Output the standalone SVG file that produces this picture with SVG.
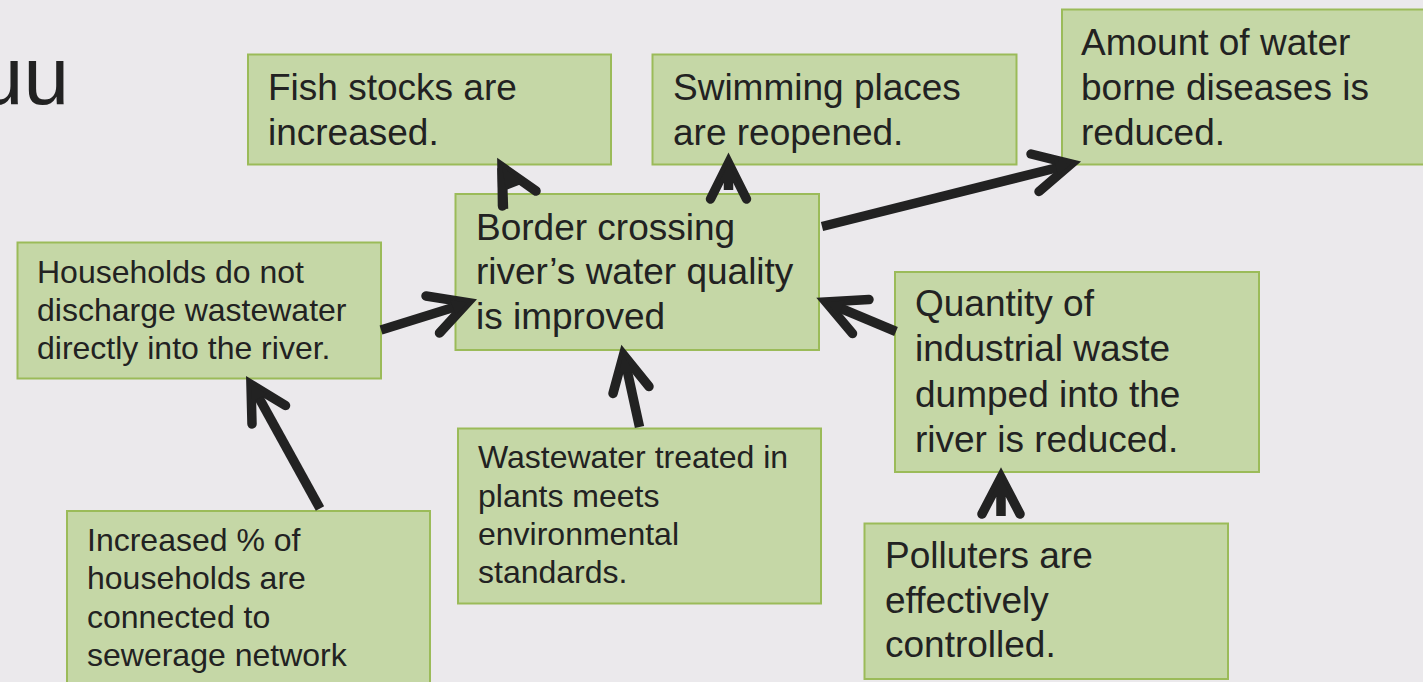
<svg xmlns="http://www.w3.org/2000/svg" width="1423" height="682" viewBox="0 0 1423 682">
<style>
.bg{fill:#EBE9EC}
.box{fill:#C5D7A6;stroke:#9BBB59;stroke-width:2}
.t37{font-family:"Liberation Sans",Arial,sans-serif;font-size:37px;fill:#222}
.t32{font-family:"Liberation Sans",Arial,sans-serif;font-size:32px;fill:#222}
.shaft{fill:none;stroke:#222;stroke-width:9.5;stroke-linecap:butt}
.head{fill:none;stroke:#222;stroke-width:9.5;stroke-linecap:round;stroke-linejoin:miter;stroke-miterlimit:10}
.fillh{fill:#222;stroke:none}
</style>
<rect class="bg" x="0" y="0" width="1423" height="682"/>
<text x="69" y="104" text-anchor="end" font-family="'Liberation Sans',Arial,sans-serif" font-size="82" fill="#222">uu</text>

<g id="fish"><rect class="box" x="248" y="54.5" width="363" height="110"/>
<text class="t37" x="268" y="100">Fish stocks are</text><text class="t37" x="268" y="144.5">increased.</text></g>

<g id="swim"><rect class="box" x="652.5" y="54.5" width="364" height="110"/>
<text class="t37" x="673" y="100">Swimming places</text><text class="t37" x="673" y="144.5">are reopened.</text></g>

<g id="amount"><rect class="box" x="1062" y="9.5" width="380" height="155"/>
<text class="t37" x="1081" y="54.5">Amount of water</text><text class="t37" x="1081" y="99.5">borne diseases is</text><text class="t37" x="1081" y="144.5">reduced.</text></g>

<g id="households"><rect class="box" x="17.5" y="242.5" width="363.5" height="136"/>
<text class="t32" x="37" y="282.5">Households do not</text><text class="t32" x="37" y="320.8">discharge wastewater</text><text class="t32" x="37" y="359">directly into the river.</text></g>

<g id="border"><rect class="box" x="455.5" y="194" width="363.5" height="156"/>
<text class="t37" x="476" y="239.5">Border crossing</text><text class="t37" x="476" y="284">river’s water quality</text><text class="t37" x="476" y="328.5">is improved</text></g>

<g id="quantity"><rect class="box" x="895" y="272" width="364" height="200"/>
<text class="t37" x="915" y="316">Quantity of</text><text class="t37" x="915" y="361.3">industrial waste</text><text class="t37" x="915" y="406.6">dumped into the</text><text class="t37" x="915" y="452">river is reduced.</text></g>

<g id="wastewater"><rect class="box" x="458" y="428.5" width="363" height="175"/>
<text class="t32" x="478" y="468.3">Wastewater treated in</text><text class="t32" x="478" y="506.6">plants meets</text><text class="t32" x="478" y="545">environmental</text><text class="t32" x="478" y="583.3">standards.</text></g>

<g id="polluters"><rect class="box" x="864.5" y="523.5" width="363.5" height="155.5"/>
<text class="t37" x="885" y="568.3">Polluters are</text><text class="t37" x="885" y="612.6">effectively</text><text class="t37" x="885" y="657">controlled.</text></g>

<g id="increased"><rect class="box" x="67" y="511" width="363" height="200"/>
<text class="t32" x="87" y="551">Increased % of</text><text class="t32" x="87" y="589.3">households are</text><text class="t32" x="87" y="627.6">connected to</text><text class="t32" x="87" y="666">sewerage network</text></g>

<g id="connectors">
<!-- Border -> Fish -->
<path class="shaft" d="M503.5,209 L502,168"/>
<path class="head" d="M502.5,206 L502,167 L536,191"/>
<polygon class="fillh" points="502,167 524,183 506,190"/>
<!-- Border -> Swimming -->
<path class="shaft" d="M728.5,190 L728.5,168"/>
<path class="head" d="M710.5,199 L728.5,163 L746.5,199"/>
<polygon class="fillh" points="728.5,163 738,183 719,183"/>
<!-- Border -> Amount -->
<path class="shaft" d="M822,226.5 L1068,165"/>
<path class="head" d="M1031,154 L1071,164 L1039,191.5"/>
<polygon class="fillh" points="1071,164 1054,160 1058,175"/>
<!-- Households -> Border -->
<path class="shaft" d="M381,330 L466,303.5"/>
<path class="head" d="M426,296 L467.5,302.5 L439.5,333"/>
<polygon class="fillh" points="467.5,302.5 450,300 456,315"/>
<!-- Increased -> Households -->
<path class="shaft" d="M320,508.5 L253,387"/>
<path class="head" d="M252,424 L251,384.5 L285.5,405.5"/>
<polygon class="fillh" points="251,384.5 251.5,402 267,394"/>
<!-- Wastewater -> Border -->
<path class="shaft" d="M639.5,427 L624,356"/>
<path class="head" d="M613,393.5 L623.5,355 L649,386.5"/>
<polygon class="fillh" points="623.5,355 618.5,373 634,372"/>
<!-- Quantity -> Border -->
<path class="shaft" d="M896,331.5 L828,303"/>
<path class="head" d="M869,299.5 L826,302 L852.5,333.5"/>
<polygon class="fillh" points="826,302 845,300.5 838,316"/>
<!-- Polluters -> Quantity -->
<path class="shaft" d="M1001,516 L1001,480"/>
<path class="head" d="M982,514 L1001,477.5 L1020,514"/>
<polygon class="fillh" points="1001,477.5 1011,497 991,497"/>
</g>
</svg>
